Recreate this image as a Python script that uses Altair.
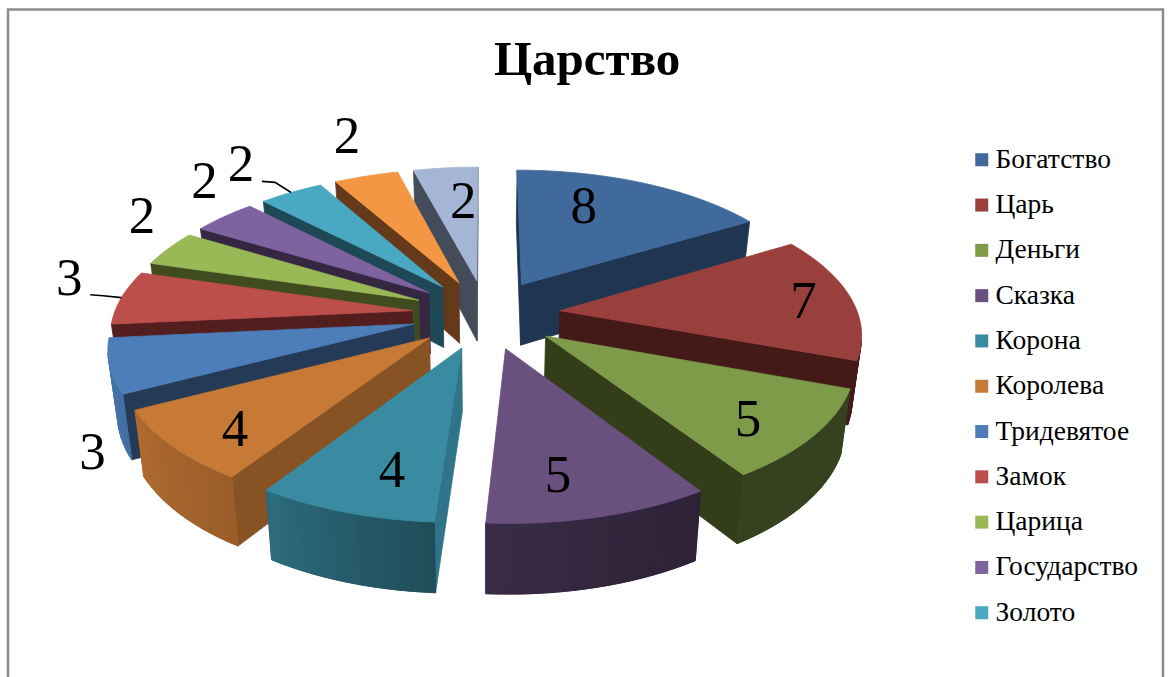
import math
import numpy as np
import altair as alt

# Word frequencies around the theme "Царство"
categories = ["Богатство", "Царь", "Деньги", "Сказка", "Корона", "Королева",
              "Тридевятое", "Замок", "Царица", "Государство", "Золото"]
values = [8, 7, 5, 5, 4, 4, 3, 3, 2, 2, 2, 2, 2]
top_colors = ["#3f6a9b", "#9a403c", "#7e9b4a", "#69507f", "#3a8ba2", "#c77936", "#4d7eb9",
              "#bc4f4c", "#99b957", "#7f62a0", "#49a9c3", "#f49745", "#a5b5d5"]
cut_colors = ["#1f3552", "#431a18", "#333d1a", "#2e2340", "#2f7488", "#875324", "#243a57",
              "#521f1e", "#404c20", "#352642", "#1e4855", "#653a1a", "#444c59"]
# Polar placement of each value label on the pie's plane (degrees, pie radii)
label_angle = [23.0, 85.2, 131.0, 168.3, 195.6, 225.2, 232.8, 280.3, 301.2, 315.3, 322.5, 339.9, 354.6]
label_radius = [0.945, 1.083, 1.05, 1.02, 1.01, 1.06, 1.45, 1.475, 1.50, 1.555, 1.595, 1.661, 0.92]
leader_slices = [7, 10]

# Perspective of the pie's plane on the page
CX, CY, AX, BY, PERSP = 486.0, 314.0, 298.0, 138.7, 0.143
EXPLODE = 0.25
CAMERA_Y = -1.0 / PERSP


def project(x, y):
    s = 1.0 / (1.0 + PERSP * y)
    return CX + AX * x * s, CY - BY * y * s


def project_low(x, y):
    px, py = project(x, y)
    return px + (CX - px) * 0.025, py + 62.0 - 7.0 * y


def shade(hex_color, f):
    r, g, b = (int(hex_color[i:i + 2], 16) for i in (1, 3, 5))
    return "#%02x%02x%02x" % (int(r * f), int(g * f), int(b * f))


def rim_shade(theta):
    return float(np.interp(theta, [0, 90, 110, 147, 184, 213, 242, 270, 360],
                           [0.5, 0.55, 0.43, 0.43, 0.55, 0.78, 0.88, 0.95, 0.95]))


def polygon(points, fill):
    ring = [[round(a, 2), round(b, 2)] for a, b in points]
    ring.append(ring[0])
    return {"type": "Feature",
            "geometry": {"type": "Polygon", "coordinates": [ring]},
            "properties": {"fill": fill}}


def rim_point(apex, theta):
    t = math.radians(theta)
    return apex[0] + math.sin(t), apex[1] + math.cos(t)


def faces_viewer(point, normal_angle):
    t = math.radians(normal_angle)
    return math.sin(t) * point[0] + math.cos(t) * (point[1] - CAMERA_Y) < 0


total = sum(values)
slices = []
cumulative = 0
for i, v in enumerate(values):
    start = cumulative / total * 360.0
    cumulative += v
    end = cumulative / total * 360.0
    mid = math.radians((start + end) / 2)
    apex = (EXPLODE * math.sin(mid), EXPLODE * math.cos(mid))
    slices.append({"i": i, "start": start, "end": end, "apex": apex})

features = []
for sl in sorted(slices, key=lambda d: -d["apex"][1]):
    i, a0, a1, apex = sl["i"], sl["start"], sl["end"], sl["apex"]
    # the radial cuts that turn towards the viewer
    for edge, normal in ((a0, a0 - 90), (a1, a1 + 90)):
        if faces_viewer(apex, normal):
            p = rim_point(apex, edge)
            features.append(polygon([project(*apex), project(*p), project_low(*p), project_low(*apex)],
                                    cut_colors[i]))
    # outer wall, split into strips so its shading can change along the arc
    thetas = np.linspace(a0, a1, max(2, int((a1 - a0) / 2.0)) + 1)
    shown = [t for t in thetas if faces_viewer(rim_point(apex, t), t)]
    if len(shown) >= 2:
        rim = [rim_point(apex, t) for t in shown]
        band = [project(*p) for p in rim] + [project_low(*p) for p in reversed(rim)]
        features.append(polygon(band, shade(top_colors[i], rim_shade((shown[0] + shown[-1]) / 2))))
        for t0, t1 in zip(shown[:-1], shown[1:]):
            p0, p1 = rim_point(apex, t0), rim_point(apex, t1)
            features.append(polygon([project(*p0), project(*p1), project_low(*p1), project_low(*p0)],
                                    shade(top_colors[i], rim_shade((t0 + t1) / 2))))
    # top face
    arc = [project(*rim_point(apex, t)) for t in thetas]
    features.append(polygon([project(*apex)] + arc, top_colors[i]))

pie = (
    alt.Chart(alt.Data(values=features))
    .mark_geoshape(strokeWidth=0.8, strokeJoin="round")
    .encode(color=alt.Color("properties.fill:N", scale=None),
            stroke=alt.Stroke("properties.fill:N", scale=None))
    .project(type="identity", scale=1, translate=[0, 0])
)

label_rows = []
for v, ang, rad in zip(values, label_angle, label_radius):
    lx, ly = project(rad * math.sin(math.radians(ang)), rad * math.cos(math.radians(ang)))
    label_rows.append({"px": lx, "py": ly, "value": v})

labels = (
    alt.Chart(alt.Data(values=label_rows))
    .mark_text(font="Liberation Serif", fontSize=53, color="#000000", align="center", baseline="middle")
    .encode(x=alt.X("px:Q", scale=None, axis=None), y=alt.Y("py:Q", scale=None, axis=None),
            text=alt.Text("value:Q"))
)

leader_rows = []
for n in leader_slices:
    sl = slices[n]
    rim = project(*rim_point(sl["apex"], (sl["start"] + sl["end"]) / 2))
    lab = label_rows[n]
    sx, sy = lab["px"] + 21, lab["py"] + 16
    path = [(sx, sy), (sx + 13, sy + 1), rim]
    for order, (qx, qy) in enumerate(path):
        leader_rows.append({"px": qx, "py": qy, "slice": n, "step": order})

leaders = (
    alt.Chart(alt.Data(values=leader_rows))
    .mark_line(color="#000000", strokeWidth=1.6)
    .encode(x=alt.X("px:Q", scale=None, axis=None), y=alt.Y("py:Q", scale=None, axis=None),
            detail="slice:N", order="step:Q")
)

legend_rows = [{"word": c} for c in categories]
legend_layer = (
    alt.Chart(alt.Data(values=legend_rows))
    .mark_square(size=0, opacity=1)
    .encode(
        x=alt.value(-20), y=alt.value(-20),
        color=alt.Color(
            "word:N",
            scale=alt.Scale(domain=categories, range=top_colors[:len(categories)]),
            legend=alt.Legend(
                title=None, orient="none", legendX=968, legendY=146,
                symbolType="square", symbolSize=169, symbolStrokeWidth=0,
                labelFont="Liberation Serif", labelFontSize=27.5, labelColor="#000000",
                labelOffset=0, rowPadding=16.3, labelLimit=300,
            ),
        ),
    )
)

frame = (
    alt.Chart(alt.Data(values=[{"k": 1}]))
    .mark_rect(fill="#ffffff", stroke="#8c8c8c", strokeWidth=2.5)
    .encode(x=alt.value(8), x2=alt.value(1163), y=alt.value(9.5), y2=alt.value(720))
)

chart = (
    alt.layer(frame, pie, leaders, labels, legend_layer)
    .properties(
        width=1169, height=677, padding=0,
        autosize=alt.AutoSizeParams(type="none"),
        background="#ffffff",
        title=alt.TitleParams("Царство", font="Liberation Serif", fontWeight="bold", fontSize=49,
                              color="#000000", anchor="start", dx=514, offset=-105),
    )
    .configure_view(stroke=None)
)

chart.save("out.html", embed_options={"renderer": "svg", "actions": False})
